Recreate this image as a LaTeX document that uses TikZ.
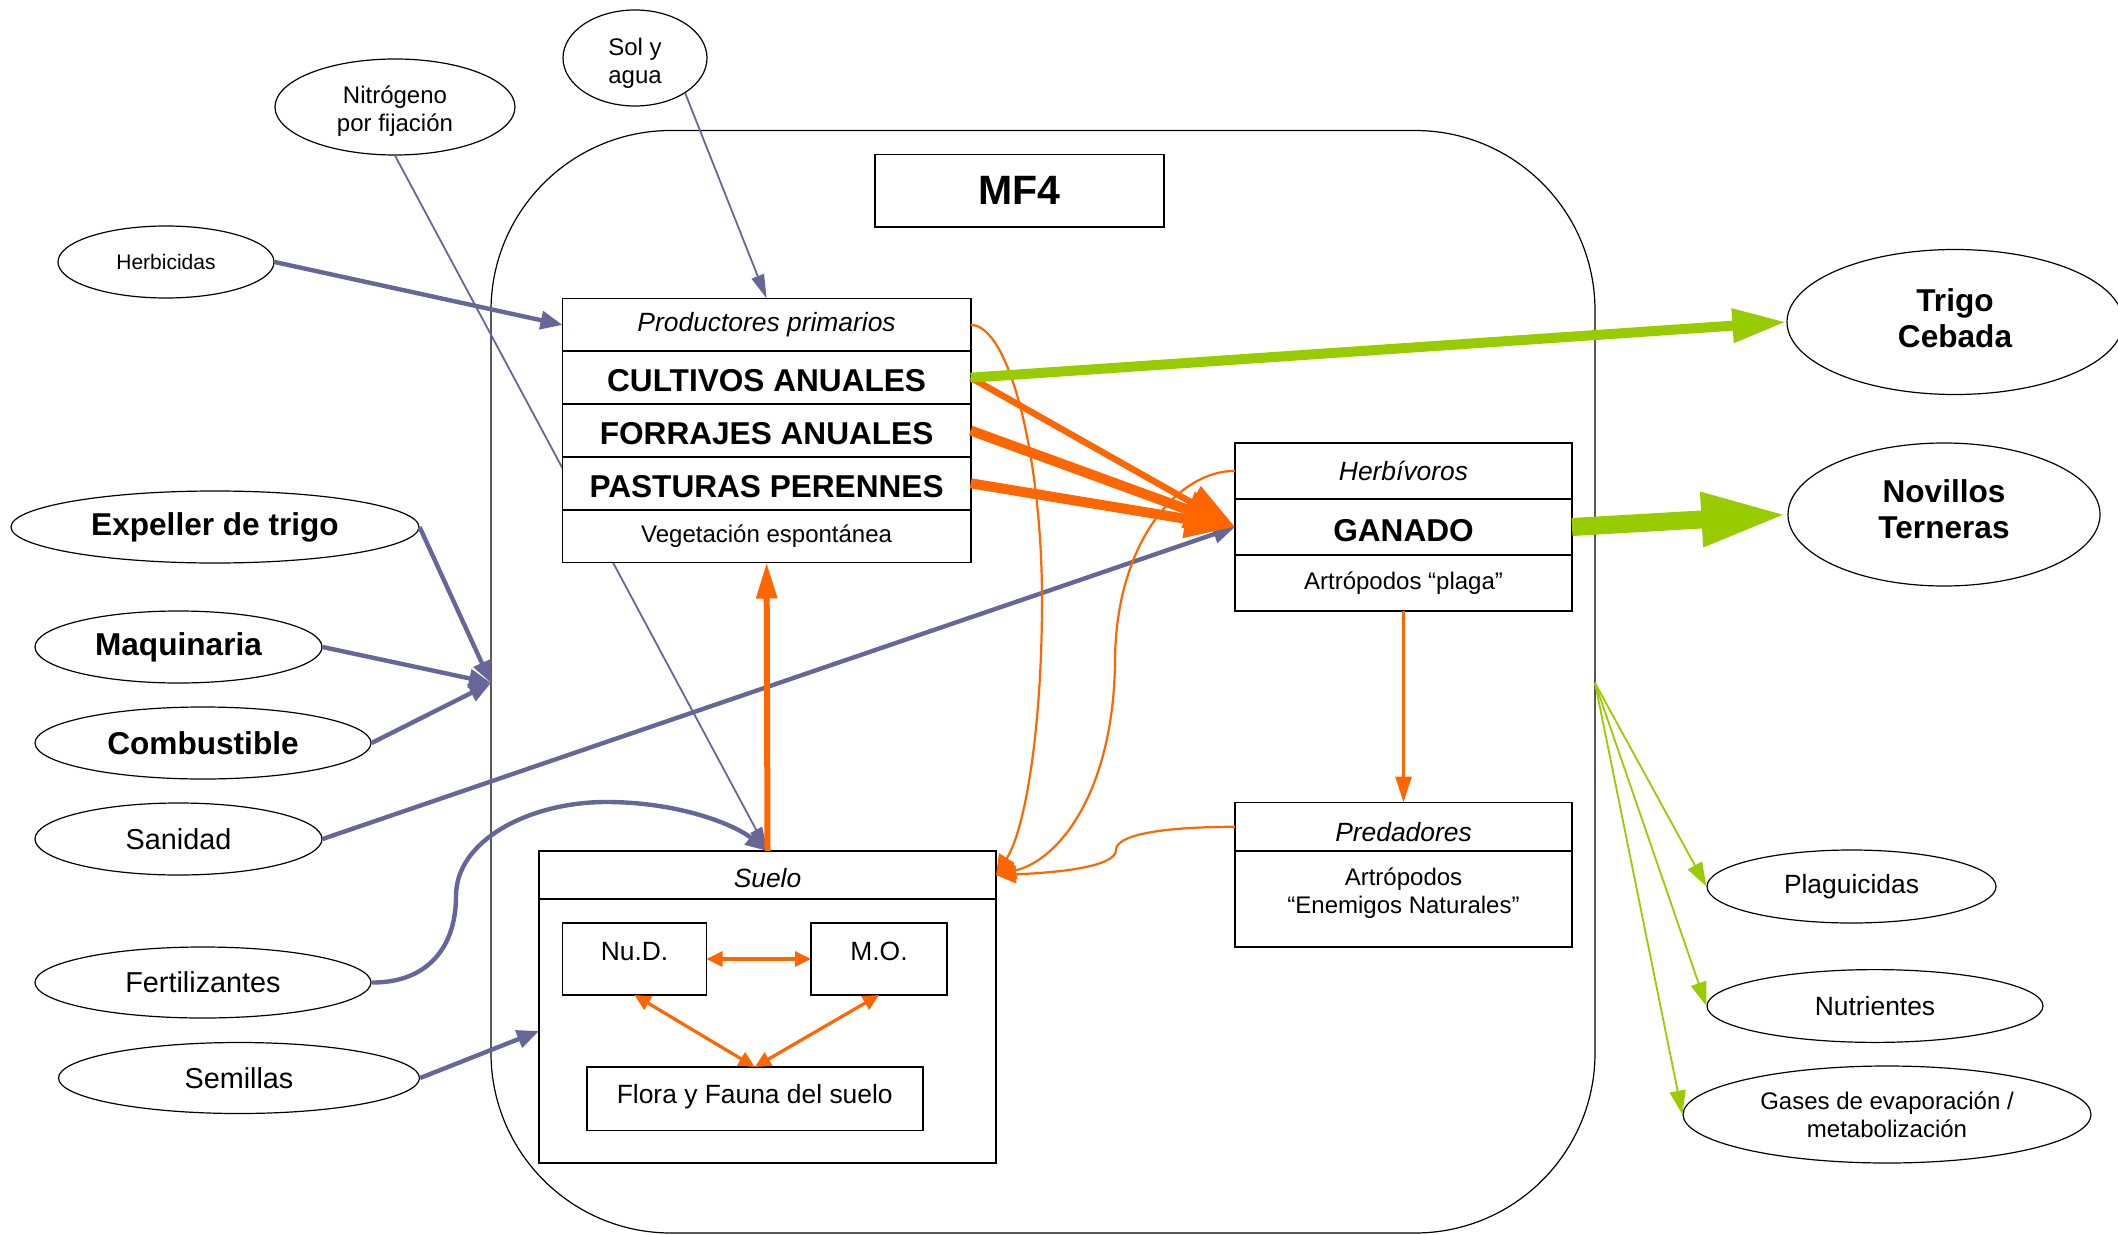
\documentclass[tikz,border=0pt]{standalone}
\usepackage{fontspec}
\setmainfont{Liberation Sans}
\usepackage{tikz}
\usetikzlibrary{arrows.meta,shapes.geometric,positioning}

\definecolor{flujo}{RGB}{102,102,153}
\definecolor{naranja}{RGB}{255,102,0}
\definecolor{verde}{RGB}{153,204,0}

\newcommand{\fherb}{\fontsize{10.5}{12.5}\selectfont}
\newcommand{\fchico}{\fontsize{12}{14}\selectfont}
\newcommand{\fmedio}{\fontsize{13.2}{15.5}\selectfont}
\newcommand{\fsani}{\fontsize{14.4}{17}\selectfont}
\newcommand{\fgrueso}{\fontsize{15.8}{18}\selectfont\bfseries}
\newcommand{\fmf}{\fontsize{20.5}{24}\selectfont\bfseries}

\tikzset{
    oval/.style={ellipse,draw,line width=0.6pt,inner sep=0pt,align=center},
    cuadro/.style={draw,line width=0.8pt,fill=white,inner sep=0pt,outer sep=0pt},
    fila/.style={cuadro,minimum width=204.1pt,minimum height=26.4pt},
    filagruesa/.style={fila,text height=20.35pt,text depth=6.05pt,font=\fgrueso},
    filaherb/.style={cuadro,minimum width=168.5pt,minimum height=28pt},
    entrada/.style={draw=flujo,line width=2.2pt,-{Triangle[length=11pt,width=9pt]}},
    entradafina/.style={draw=flujo,line width=0.9pt,-{Triangle[length=12pt,width=6.5pt]}},
    interno/.style={draw=naranja,line width=1.1pt,-{Triangle[length=10pt,width=9pt]}},
    grueso/.style={draw=naranja,-{Triangle[length=25pt,width=18pt]}},
    ciclo/.style={draw=naranja,line width=1.6pt,{Triangle[length=8pt,width=7.5pt]}-{Triangle[length=8pt,width=7.5pt]}},
    salida/.style={draw=verde,line width=0.9pt,-{Triangle[length=12pt,width=8pt]}}
}

\begin{document}
\begin{tikzpicture}[x=0.5pt,y=-0.5pt]
    \useasboundingbox (0,0) rectangle (2118,1235);
    \clip (0,0) rectangle (2118,1235);

    % limite del sistema
    \draw[line width=0.6pt,rounded corners=90pt] (491,130.5) rectangle (1595,1233);
    \coordinate (entra) at (491,683);
    \coordinate (sale) at (1595,683);

    \node[cuadro,minimum width=144.5pt,minimum height=36.2pt,font=\fmf] (mf) at (1019.5,190.8) {MF4};

    % entradas
    \node[oval,minimum width=72pt,minimum height=48pt,text height=28.5pt,text depth=2.5pt,font=\fchico] (sol) at (635,58) {Sol y\\agua};
    \node[oval,minimum width=120pt,minimum height=48pt,text height=27pt,text depth=2.5pt,font=\fchico] (nitro) at (395,107) {Nitrógeno\\por fijación};
    \node[oval,minimum width=108pt,minimum height=36pt,font=\fherb] (herbi) at (166,262) {Herbicidas};
    \node[oval,minimum width=204pt,minimum height=36pt,font=\fgrueso] (expel) at (215,527) {Expeller de trigo};
    \node[oval,minimum width=143.5pt,minimum height=36pt,font=\fgrueso] (maq) at (178.5,647) {Maquinaria};
    \node[oval,minimum width=168pt,minimum height=36pt,font=\fgrueso] (comb) at (203,743) {Combustible};
    \node[oval,minimum width=143.5pt,minimum height=36pt,font=\fsani] (sani) at (178.5,839) {Sanidad};
    \node[oval,minimum width=168pt,minimum height=35.5pt,font=\fsani] (ferti) at (203,982.5) {Fertilizantes};
    \node[oval,minimum width=180.5pt,minimum height=35.5pt,font=\fsani] (semi) at (239,1078) {Semillas};

    % salidas
    \node[oval,minimum width=168pt,minimum height=72.5pt,text height=25.3pt,text depth=0pt,font=\fgrueso] (trigo) at (1955,322) {Trigo\\Cebada};
    \node[oval,minimum width=156pt,minimum height=71.5pt,text height=23.8pt,text depth=0pt,font=\fgrueso] (novi) at (1944,514.5) {Novillos\\Terneras};
    \node[oval,minimum width=144.5pt,minimum height=36.5pt,font=\fmedio] (plagui) at (1851.5,886.5) {Plaguicidas};
    \node[oval,minimum width=168pt,minimum height=36.4pt,font=\fmedio] (nutri) at (1875,1006) {Nutrientes};
    \node[oval,minimum width=204pt,minimum height=48.5pt,font=\fchico] (gases) at (1887,1114.5) {Gases de evaporación /\\metabolización};

    % suelo
    \node[cuadro,minimum width=228.5pt,text height=18.25pt,text depth=5.75pt,font=\fmedio\itshape] (suelo) at (767.5,875) {Suelo};
    \node[cuadro,minimum width=228.5pt,minimum height=132pt,below=0pt of suelo] (sbody) {};
    \node[cuadro,minimum width=72pt,text height=18.75pt,text depth=17.25pt,font=\fmedio] (nud) at (634.5,959) {Nu.D.};
    \node[cuadro,minimum width=68pt,text height=18.75pt,text depth=17.25pt,font=\fmedio] (mo) at (879,959) {M.O.};
    \node[cuadro,minimum width=168pt,text height=18pt,text depth=13.8pt,font=\fmedio] (flora) at (754.75,1098.8) {Flora y Fauna del suelo};

    \draw[entradafina] (nitro.south) -- (suelo.north);

    % productores primarios
    \node[fila,font=\fmedio\itshape] (prod) at (766.6,324.9) {Productores primarios};
    \node[filagruesa,below=0pt of prod] (cult) {CULTIVOS ANUALES};
    \node[filagruesa,below=0pt of cult] (forr) {FORRAJES ANUALES};
    \node[filagruesa,below=0pt of forr] (past) {PASTURAS PERENNES};
    \node[fila,font=\fchico,below=0pt of past] (veg) {Vegetación espontánea};

    % herbivoros y predadores
    \node[filaherb,font=\fmedio\itshape] (herb) at (1403.5,471) {Herbívoros};
    \node[filaherb,text height=21.15pt,text depth=6.85pt,font=\fgrueso,below=0pt of herb] (gan) {GANADO};
    \node[filaherb,font=\fchico,below=0pt of gan] (plaga) {Artrópodos “plaga”};
    \node[cuadro,minimum width=168.5pt,text height=19.25pt,text depth=5pt,font=\fmedio\itshape] (pred) at (1403.5,826.75) {Predadores};
    \node[cuadro,minimum width=168.5pt,text height=31pt,text depth=17pt,align=center,font=\fchico,below=0pt of pred] (enem) {Artrópodos\\“Enemigos Naturales”};

    % flujos de entrada
    \draw[entradafina] (sol.-35) -- (prod.north);
    \draw[entrada] (herbi.east) -- (prod.west);
    \draw[entrada] (expel.east) -- (entra);
    \draw[entrada] (maq.east) -- (entra);
    \draw[entrada] (comb.east) -- (entra);
    \draw[entrada] (sani.east) -- (gan.west);
    \draw[entrada] (ferti.east) .. controls (425,983) and (456,950) .. (456,896)
        .. controls (456,840) and (530,802) .. (606,802)
        .. controls (680,802) and (735,825) .. (suelo.north);
    \draw[entrada] (semi.east) -- (sbody.west);

    % flujos internos
    \draw[grueso,line width=3.2pt] (cult.east) -- (gan.west);
    \draw[grueso,line width=5pt] (forr.east) -- (gan.west);
    \draw[grueso,line width=5pt] (past.east) -- (gan.west);
    \draw[draw=naranja,line width=3pt,-{Triangle[length=18pt,width=10pt]}] (suelo.north) -- (veg.south);
    \draw[draw=naranja,line width=1.2pt,-{Triangle[length=13pt,width=8pt]}] (plaga.south) -- (pred.north);
    \draw[interno] (prod.east) .. controls (1010,325) and (1042,460) .. (1042,600)
        .. controls (1042,730) and (1025,830) .. (suelo.east);
    \draw[interno] (herb.west) .. controls (1180,470) and (1116,540) .. (1115,660)
        .. controls (1114,790) and (1060,860) .. (suelo.east);
    \draw[interno] (pred.west) .. controls (1160,827) and (1116,835) .. (1116,850)
        .. controls (1116,868) and (1050,873) .. (suelo.east);
    \draw[ciclo] (nud.east) -- (mo.west);
    \draw[ciclo] (nud.south) -- (flora.north);
    \draw[ciclo] (mo.south) -- (flora.north);

    % salidas
    \draw[draw=verde,line width=5pt,-{Triangle[length=27pt,width=16pt]}] (cult.east) -- (trigo.west);
    \draw[draw=verde,line width=9pt,-{Triangle[length=43pt,width=25pt]}] (gan.east) -- (novi.west);
    \draw[salida] (sale) -- (plagui.west);
    \draw[salida] (sale) -- (nutri.west);
    \draw[salida] (sale) -- (gases.west);
\end{tikzpicture}
\end{document}
